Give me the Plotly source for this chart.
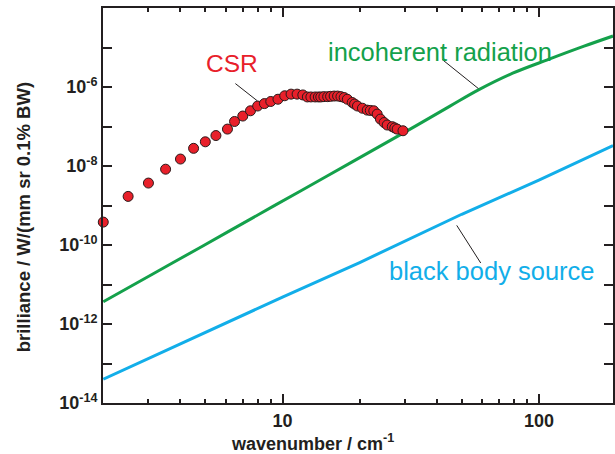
import math
import plotly.graph_objects as go

# ---------------- data ----------------
csr_wavenumber = [2.0, 2.5, 3.0, 3.5, 4.0, 4.5, 5.0, 5.5, 6.1, 6.5, 7.0, 7.5, 8.0,
                  8.5, 9.0, 9.6, 10.2, 10.8, 11.4, 12.0, 12.5, 12.9, 13.4, 13.8,
                  14.1, 14.5, 15.0, 15.4, 15.9, 16.4, 16.9, 17.4, 17.9, 18.7,
                  19.1, 19.6, 20.5, 21.4, 22.0, 22.7, 23.4, 24.1, 24.9, 25.6,
                  26.8, 27.4, 28.0, 29.5]
csr_brilliance = [3.8e-10, 1.7e-9, 3.7e-9, 8.3e-9, 1.5e-8, 2.8e-8, 4.1e-8, 5.9e-8,
                  8.6e-8, 1.34e-7, 1.84e-7, 2.5e-7, 3.3e-7, 3.8e-7, 4.3e-7, 4.9e-7,
                  6.0e-7, 6.6e-7, 6.6e-7, 6.3e-7, 5.6e-7, 5.6e-7, 5.6e-7, 5.6e-7,
                  5.6e-7, 5.7e-7, 5.7e-7, 5.8e-7, 5.9e-7, 5.9e-7, 5.7e-7, 5.4e-7,
                  4.9e-7, 4.05e-7, 3.7e-7, 3.3e-7, 2.9e-7, 2.6e-7, 2.55e-7, 2.5e-7,
                  2.06e-7, 1.54e-7, 1.26e-7, 1.09e-7, 9.9e-8, 9.2e-8, 8.6e-8, 7.8e-8]

incoherent_wavenumber = [2.0, 3.12, 4.87, 7.62, 11.9, 18.7, 29.2, 45.0, 58.1, 79.0,
                         109.0, 150.0, 194.5]
incoherent_brilliance = [3.65e-12, 1.85e-11, 9.3e-11, 4.8e-10, 2.44e-9, 1.27e-8, 6.5e-8,
                         3.28e-7, 8.45e-7, 2.23e-6, 5.0e-6, 1.08e-5, 1.95e-5]

blackbody_wavenumber = [2.0, 5.0, 10.0, 20.0, 50.0, 100.0, 194.5]
blackbody_brilliance = [4.0e-14, 6.2e-13, 4.8e-12, 3.6e-11, 6.0e-10, 4.4e-9, 3.3e-8]

x_major_ticks = [10, 100]
x_major_labels = ["10", "100"]
x_minor_ticks = [2, 3, 4, 5, 6, 7, 8, 9, 20, 30, 40, 50, 60, 70, 80, 90]

y_exponents = [-14, -13, -12, -11, -10, -9, -8, -7, -6, -5, -4]
y_labelled = [-14, -12, -10, -8, -6]

# ---------------- styling ----------------
INK = "#231f20"
GREEN = "#14a14b"
BLUE = "#12aee9"
RED = "#e8202a"
FONT = "Liberation Sans, Arial, Helvetica, sans-serif"

y_tickvals = [10.0 ** e for e in y_exponents]
y_ticktext = [("10<sup>%d</sup>" % e) if e in y_labelled else "" for e in y_exponents]

fig = go.Figure()
fig.add_trace(go.Scatter(x=blackbody_wavenumber, y=blackbody_brilliance, mode="lines",
                         line=dict(color=BLUE, width=3), hoverinfo="skip"))
fig.add_trace(go.Scatter(x=incoherent_wavenumber, y=incoherent_brilliance, mode="lines",
                         line=dict(color=GREEN, width=3, shape="spline", smoothing=1.0),
                         hoverinfo="skip"))
fig.add_trace(go.Scatter(x=csr_wavenumber, y=csr_brilliance, mode="markers",
                         marker=dict(size=10, color=RED, line=dict(color="#2a1a1a", width=1)),
                         cliponaxis=False))

fig.update_layout(
    width=615, height=454,
    margin=dict(l=103, r=0, t=8, b=51),
    paper_bgcolor="white", plot_bgcolor="white",
    showlegend=False,
    font=dict(family=FONT, color=INK),
)

fig.update_xaxes(
    type="log", range=[math.log10(1.995), math.log10(194.5)],
    showline=True, linewidth=2, linecolor=INK, mirror="ticks",
    ticks="inside", ticklen=9, tickwidth=1.5, tickcolor=INK,
    tickmode="array", tickvals=x_major_ticks, ticktext=x_major_labels,
    tickfont=dict(family=FONT, size=18, color=INK, weight="bold"),
    showgrid=False, zeroline=False,
    minor=dict(tickmode="array", tickvals=x_minor_ticks, ticks="inside",
               ticklen=4, tickwidth=1.5, tickcolor=INK, showgrid=False),
)
fig.update_yaxes(
    type="log", range=[-14, -4],
    showline=True, linewidth=2, linecolor=INK, mirror="ticks",
    ticks="inside", ticklen=9, tickwidth=1.5, tickcolor=INK,
    tickmode="array", tickvals=y_tickvals, ticktext=y_ticktext,
    tickfont=dict(family=FONT, size=18, color=INK, weight="bold"),
    showgrid=False, zeroline=False,
)

# axis titles
fig.add_annotation(text="wavenumber / cm<sup>-1</sup>", xref="paper", yref="paper",
                   x=0.41, y=-0.10, xanchor="center", yanchor="middle", showarrow=False,
                   font=dict(family=FONT, size=18, color=INK, weight="bold"))
fig.add_annotation(text="brilliance / W/(mm sr 0.1% BW)", xref="paper", yref="paper",
                   x=-0.157, y=0.47, xanchor="center", yanchor="middle", textangle=-90,
                   showarrow=False,
                   font=dict(family=FONT, size=18.5, color=INK, weight="bold"))

# curve labels (log10 coordinates for annotations on log axes)
fig.add_annotation(text="CSR", x=0.8026, y=-5.417, xref="x", yref="y", showarrow=False,
                   xanchor="center", yanchor="middle",
                   font=dict(family=FONT, size=24.5, color=RED))
fig.add_annotation(text="incoherent radiation", x=1.6156, y=-5.115, xref="x", yref="y",
                   showarrow=False, xanchor="center", yanchor="middle",
                   font=dict(family=FONT, size=25.5, color=GREEN))
fig.add_annotation(text="black body source", x=1.8189, y=-10.663, xref="x", yref="y",
                   showarrow=False, xanchor="center", yanchor="middle",
                   font=dict(family=FONT, size=25.5, color=BLUE))

# leader lines (shapes on log axes take data values)
fig.add_shape(type="line", xref="x", yref="y", x0=6.55, y0=1.22e-6, x1=7.98, y1=4.45e-7,
              line=dict(color=INK, width=1))
fig.add_shape(type="line", xref="x", yref="y", x0=41.9, y0=5.0e-6, x1=58.1, y1=9.1e-7,
              line=dict(color=INK, width=1))
fig.add_shape(type="line", xref="x", yref="y", x0=47.8, y0=3.14e-10, x1=59.3, y1=3.5e-11,
              line=dict(color=INK, width=1))

fig.write_html("out.html", config={"displayModeBar": False},
               post_script="document.body.style.margin='0px';")
